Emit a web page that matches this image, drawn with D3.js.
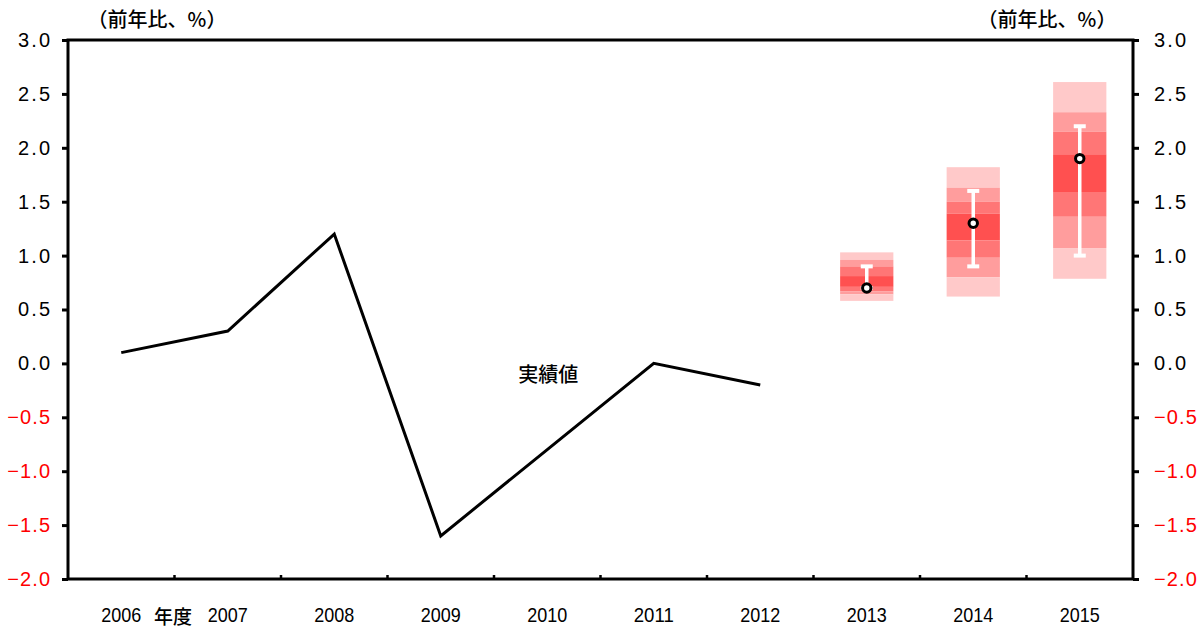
<!DOCTYPE html>
<html><head><meta charset="utf-8">
<script src="https://cdn.jsdelivr.net/npm/d3@7"></script>
<style>
body{margin:0;background:#fff;}
</style></head>
<body>
<svg id="c" width="1204" height="630"></svg>
<script>
const years = ["2006","2007","2008","2009","2010","2011","2012","2013","2014","2015"];
const actualYears = ["2006","2007","2008","2009","2010","2011","2012"];
const actualValues = [0.1, 0.3, 1.2, -1.6, -0.8, 0.0, -0.2];
const fanYears = ["2013","2014","2015"];
// band boundaries from top to bottom (7 bands)
const fanBounds = [
  [1.03, 0.96, 0.90, 0.81, 0.71, 0.67, 0.64, 0.58],
  [1.82, 1.63, 1.50, 1.39, 1.14, 0.98, 0.80, 0.62],
  [2.61, 2.33, 2.15, 1.94, 1.59, 1.36, 1.07, 0.785]
];
const medians = [0.7, 1.3, 1.9];
const whiskerLow = [0.7, 0.9, 1.0];
const whiskerHigh = [0.9, 1.6, 2.2];
const yTicks = [3.0, 2.5, 2.0, 1.5, 1.0, 0.5, 0.0, -0.5, -1.0, -1.5, -2.0];
const bandColors = ["#ffc9c9","#ff9d9d","#ff7676","#ff5050","#ff7676","#ff9d9d","#ffc9c9"];
const axisTitle = "（前年比、%）";
const xUnit = "年度";
const actualLabel = "実績値";

const CJK = "'Noto Sans CJK JP','Noto Sans',sans-serif";
const SANS = "'Liberation Sans',Arial,sans-serif";

const svg = d3.select("#c");
const L = 68, R = 1133, T = 40, B = 579;
const x = d3.scaleBand().domain(years).range([L, R]).padding(0);
const y = d3.scaleLinear().domain([-2, 3]).range([B, T]);
const fmt = d3.format(".1f");

// fan bands
fanYears.forEach((yr, i) => {
  const bw = x.bandwidth() * 0.5;
  const cx = x(yr) + x.bandwidth() / 2;
  const b = fanBounds[i];
  const g = svg.append("g");
  for (let k = 0; k < b.length - 1; k++) {
    g.append("rect")
      .attr("x", cx - bw / 2).attr("width", bw)
      .attr("y", y(b[k])).attr("height", y(b[k + 1]) - y(b[k]))
      .attr("fill", bandColors[k]);
  }
  g.append("line").attr("x1", cx).attr("x2", cx)
    .attr("y1", y(whiskerLow[i])).attr("y2", y(whiskerHigh[i]))
    .attr("stroke", "#fff").attr("stroke-width", 3.5);
  [whiskerLow[i], whiskerHigh[i]].forEach(v => {
    g.append("line").attr("x1", cx - 6).attr("x2", cx + 6)
      .attr("y1", y(v)).attr("y2", y(v))
      .attr("stroke", "#fff").attr("stroke-width", 4);
  });
  g.append("circle").attr("cx", cx).attr("cy", y(medians[i])).attr("r", 4.2)
    .attr("fill", "#fff").attr("stroke", "#000").attr("stroke-width", 3);
});

// actual line
const line = d3.line().x((d, i) => x(actualYears[i]) + x.bandwidth() / 2).y(d => y(d));
svg.append("path").datum(actualValues).attr("d", line)
  .attr("fill", "none").attr("stroke", "#000").attr("stroke-width", 3)
  .attr("stroke-linejoin", "miter");

svg.append("text").attr("x", x("2010") + x.bandwidth() / 2 + 1).attr("y", y(-0.1) + 8)
  .attr("text-anchor", "middle").style("font-family", CJK).style("font-size", "20px")
  .style("font-weight", 500).attr("fill", "#000").text(actualLabel);

// frame
svg.append("rect").attr("x", L).attr("y", T).attr("width", R - L).attr("height", B - T)
  .attr("fill", "none").attr("stroke", "#000").attr("stroke-width", 3);

// axes
const yl = svg.append("g").attr("transform", `translate(${L},0)`)
  .call(d3.axisLeft(y).tickValues(yTicks).tickSize(6).tickPadding(12).tickFormat(fmt));
const yr = svg.append("g").attr("transform", `translate(${R},0)`)
  .call(d3.axisRight(y).tickValues(yTicks).tickSize(6).tickPadding(15).tickFormat(fmt));
[yl, yr].forEach(g => {
  g.select(".domain").remove();
  g.selectAll(".tick line").attr("stroke", "#000").attr("stroke-width", 3);
  g.selectAll(".tick text")
    .style("font-family", SANS).style("font-size", "20px")
    .attr("textLength", function() { return this.textContent.length * 10.7; })
    .attr("lengthAdjust", "spacing")
    .attr("fill", d => d < 0 ? "#ff0000" : "#000");
});

// bottom ticks at category boundaries (inward)
const bounds = years.slice(1).map(d => x(d));
svg.append("g").selectAll("line").data(bounds).join("line")
  .attr("x1", d => d).attr("x2", d => d).attr("y1", B).attr("y2", B - 4)
  .attr("stroke", "#000").attr("stroke-width", 2.5);

// x labels
svg.append("g").selectAll("text").data(years).join("text")
  .attr("x", d => x(d) + x.bandwidth() / 2 - 20).attr("y", 622)
  .style("font-family", SANS).style("font-size", "21px")
  .attr("textLength", 40).attr("lengthAdjust", "spacingAndGlyphs")
  .text(d => d);
svg.append("text").attr("x", 173).attr("y", 624).attr("text-anchor", "middle")
  .style("font-family", CJK).style("font-size", "19px").style("font-weight", 500).text(xUnit);

// axis titles
svg.append("text").attr("x", 157).attr("y", 27).attr("text-anchor", "middle")
  .style("font-family", CJK).style("font-size", "20px").style("font-weight", 500).text(axisTitle);
svg.append("text").attr("x", 1047).attr("y", 27).attr("text-anchor", "middle")
  .style("font-family", CJK).style("font-size", "20px").style("font-weight", 500).text(axisTitle);
</script>
</body></html>
